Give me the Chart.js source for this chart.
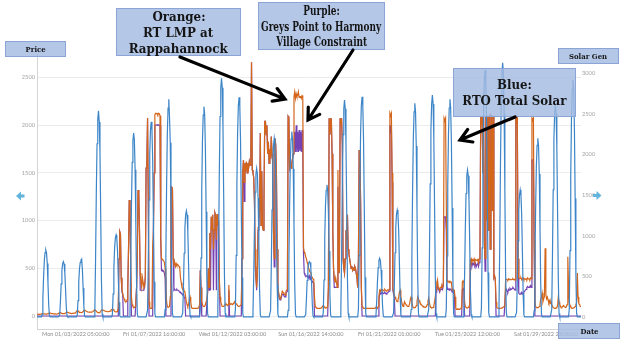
<!DOCTYPE html>
<html><head><meta charset="utf-8">
<script src="https://cdn.jsdelivr.net/npm/chart.js@4.4.1/dist/chart.umd.min.js"></script>
<style>
html,body{margin:0;padding:0;background:#fff;}
#wrap{position:relative;width:626px;height:356px;overflow:hidden;background:#fff;}
#c{position:absolute;left:0;top:0;}
.box{position:absolute;box-sizing:border-box;background:rgba(163,187,226,0.82);border:1px solid #8aa5d6;font-family:"DejaVu Serif",serif;font-weight:bold;color:#151515;}
.box .ln{white-space:nowrap;display:flex;justify-content:center;}
.box .ln span{display:inline-block;flex:none;transform-origin:50% 50%;}
#ov{position:absolute;left:0;top:0;pointer-events:none;}
</style></head>
<body><div id="wrap"><canvas id="c" width="626" height="356"></canvas><svg id="ov" width="626" height="356" xmlns="http://www.w3.org/2000/svg"></svg></div>
<script>
// ---- Data (hourly, Jan 1 00:00 .. Jan 31 23:00) ----
const tickHours = [53, 160, 267, 374, 481, 588, 695];
const tickLabels = ['Mon 01/03/2022 05:00:00','Fri 01/07/2022 16:00:00','Wed 01/12/2022 03:00:00','Sun 01/16/2022 14:00:00','Fri 01/21/2022 01:00:00','Tue 01/25/2022 12:00:00','Sat 01/29/2022 23:00:00'];
const priceTicks = [0, 500, 1000, 1500, 2000, 2500];
const solarTicks = [0, 500, 1000, 1500, 2000, 2500, 3000];

// RTO Total Solar (right axis)
const solar = [
0,0,0,0,0,0,0,29,231,494,692,791,824,791,659,412,148,13,0,0,0,0,0,0,
0,0,0,0,0,0,0,24,190,408,571,653,680,653,544,340,122,11,0,0,0,0,0,0,
0,0,0,0,0,0,0,25,200,428,590,670,700,713,580,357,128,11,0,0,0,0,0,0,
0,0,0,0,0,0,0,89,710,1522,2131,2436,2537,2400,2030,1269,457,41,0,0,0,0,0,0,
0,0,0,0,0,0,0,35,283,605,848,969,1009,969,807,505,182,16,0,0,0,0,0,0,
0,0,0,0,0,0,0,79,634,1358,1901,2172,2263,2172,1810,1132,407,36,0,0,0,0,0,0,
0,0,0,0,0,0,0,84,673,1441,2018,2306,2402,2306,1922,1201,432,38,0,0,0,0,0,0,
0,0,0,0,0,0,0,94,750,1607,2250,2571,2678,2450,2142,1339,482,43,0,0,0,0,0,0,
0,0,0,0,0,0,0,46,366,784,1098,1255,1307,1255,1046,654,235,21,0,0,0,0,0,0,
0,0,0,0,0,0,0,91,724,1552,2173,2484,2587,2484,2070,1294,466,41,0,0,0,0,0,0,
0,0,0,0,0,0,0,103,822,1762,2466,2819,2936,2819,2349,1468,528,47,0,0,0,0,0,0,
0,0,0,0,0,0,0,95,757,1621,2270,2594,2702,2594,2162,1351,486,43,0,0,0,0,0,0,
0,0,0,0,0,0,0,64,512,1097,1536,1756,1829,1756,1463,915,329,29,0,0,0,0,0,0,
0,0,0,0,0,0,0,77,615,1319,1846,2110,2198,2110,1758,1099,396,35,0,0,0,0,0,0,
0,0,0,0,0,0,0,80,638,1368,1915,2189,2280,2189,1824,1140,410,36,0,0,0,0,0,0,
0,0,0,0,0,0,0,30,220,450,600,660,680,670,600,420,160,15,0,0,0,0,0,0,
0,0,0,0,0,0,0,57,455,974,1364,1559,1624,1559,1299,812,292,26,0,0,0,0,0,0,
0,0,0,0,0,0,0,93,747,1601,2242,2562,2669,2562,2135,1335,480,43,0,0,0,0,0,0,
0,0,0,0,0,0,0,95,759,1626,2276,2602,2710,2602,2168,1355,488,43,0,0,0,0,0,0,
0,0,0,0,0,0,0,25,202,433,606,693,722,693,578,361,130,12,0,0,0,0,0,0,
0,0,0,0,0,0,0,46,368,790,1105,1263,1316,1263,1053,658,237,21,0,0,0,0,0,0,
0,0,0,0,0,0,0,92,736,1577,2208,2523,2628,2523,2102,1314,473,42,0,0,0,0,0,0,
0,0,0,0,0,0,0,96,764,1638,2293,2621,2730,2621,2184,1365,491,44,0,0,0,0,0,0,
0,0,0,0,0,0,0,94,750,1607,2250,2571,2678,2571,2142,1339,482,43,0,0,0,0,0,0,
0,0,0,0,0,0,0,63,506,1085,1519,1736,1808,1736,1446,904,325,29,0,0,0,0,0,0,
0,0,0,0,0,0,0,106,851,1823,2552,2916,3038,2916,2430,1519,547,49,0,0,0,0,0,0,
0,0,0,0,0,0,0,109,876,1877,2628,3003,3128,3003,2502,1564,563,50,0,0,0,0,0,0,
0,0,0,0,0,0,0,55,437,937,1312,1500,1562,1500,1250,781,281,25,0,0,0,0,0,0,
0,0,0,0,0,0,0,77,615,1319,1846,2110,2198,2110,1758,1099,396,35,0,0,0,0,0,0,
0,0,0,0,0,0,0,91,730,1565,2191,2504,2608,2504,2086,1304,469,42,0,0,0,0,0,0,
0,0,0,0,0,0,0,102,816,1749,2449,2798,2915,2798,2332,1458,525,47,0,0,0,0,0,0
];

// RT LMP at Rappahannock (left axis)
const lmp = [
20,20,18,18,18,20,22,25,25,24,22,20,20,20,22,25,28,30,30,28,26,25,24,22,
22,22,20,20,22,25,30,35,35,30,28,26,25,25,28,32,38,40,38,35,32,30,28,26,
28,28,28,30,32,38,50,60,55,45,40,38,36,36,40,48,60,62,58,52,48,45,42,40,
40,40,40,42,45,52,60,65,60,50,42,38,36,36,40,50,62,66,62,58,55,52,50,48,
45,45,45,48,52,60,70,75,70,60,50,45,42,42,50,90,600,884,860,400,280,240,200,180,
160,150,150,170,300,700,1216,1150,500,200,120,100,90,90,100,150,300,600,1320,1280,900,450,350,300,
400,350,300,320,420,1551,1600,2075,1200,150,90,80,80,100,726,900,1500,2110,2125,2120,2125,2110,2125,2120,
2100,831,600,587,590,580,560,500,300,150,100,90,90,100,200,1355,1350,1340,600,540,560,520,550,530,
540,530,520,500,400,350,300,280,300,260,250,200,150,120,100,120,180,200,150,90,80,80,80,80,
80,80,80,80,85,90,120,480,300,150,120,100,100,100,120,150,180,250,500,300,870,700,1040,900,
1060,700,900,1080,1050,800,1070,950,1000,400,200,150,120,100,100,100,110,120,130,120,110,120,325,130,
120,130,125,120,130,140,150,135,130,120,110,100,100,100,110,120,600,1500,1635,1400,1600,1550,1617,1500,
1600,1550,1620,1580,1617,2660,1530,1500,1450,1200,700,400,300,450,930,1000,1100,1918,950,1516,930,900,1200,2040,
2040,1900,2000,1700,1827,1600,1750,1650,1880,1700,1600,900,600,1860,1800,1500,700,300,250,200,180,200,220,260,
250,240,230,220,260,270,280,2090,2073,1560,1600,1550,1600,1650,1700,2300,2350,2280,2330,2300,2310,2350,2290,2300,
2300,2280,2310,2300,715,670,650,620,600,560,540,500,480,460,450,420,400,390,380,200,100,90,85,80,
80,80,80,80,85,90,100,110,100,90,85,85,90,100,300,2073,1900,2000,2073,1700,900,500,400,350,
400,350,300,1530,500,450,2073,2000,2073,1800,600,500,450,600,900,800,1060,700,650,600,550,500,520,480,
500,480,520,500,450,400,300,600,1740,1700,1200,300,100,90,85,80,80,80,80,80,80,80,80,80,
80,80,80,80,80,80,85,90,85,80,100,200,270,260,280,270,275,265,270,280,270,260,270,275,
270,280,2125,2100,2125,1500,300,250,220,200,180,160,150,170,200,250,270,200,150,120,100,120,150,130,
120,110,100,100,110,130,180,200,150,100,90,85,85,90,110,150,200,180,160,140,130,120,110,100,
100,95,90,90,100,120,160,190,140,100,90,85,85,90,110,150,200,280,350,380,300,290,270,300,
300,320,300,350,2073,2050,2073,1200,360,370,360,350,365,360,355,270,280,265,270,200,80,70,70,75,
70,70,75,80,90,360,370,350,150,100,90,85,85,90,100,120,587,600,560,590,580,600,570,590,
590,580,600,560,600,620,2090,2000,2090,1500,2080,800,600,2100,1000,2100,900,2090,2100,700,2100,2080,1100,2100,
400,420,380,150,90,85,80,80,80,80,82,85,90,95,100,120,380,385,380,375,390,380,385,380,
380,385,390,380,385,375,2100,2050,2100,600,400,390,395,400,380,390,400,380,390,385,390,380,400,390,
390,380,400,390,2073,2050,2073,800,150,100,90,85,85,90,100,120,180,200,240,150,180,200,710,220,
180,200,170,140,160,130,150,120,100,90,85,80,80,85,90,110,200,150,120,100,95,90,100,110,
100,95,90,95,120,620,300,140,110,95,85,80,80,85,90,100,120,140,450,200,130,120,100,100
];

// Greys Point to Harmony Village constraint (left axis)
const constraint = [
0,0,0,0,0,0,0,0,0,0,0,0,0,0,0,0,0,0,0,0,0,0,0,0,
0,0,0,0,0,0,0,0,0,0,0,0,0,0,0,0,0,0,0,0,0,0,0,0,
0,0,0,0,0,0,0,0,0,0,0,0,0,0,0,0,0,0,0,0,0,0,0,0,
0,0,0,0,0,0,0,0,0,0,0,0,0,0,0,0,0,0,0,0,0,0,0,0,
0,0,0,0,0,0,0,0,0,0,0,0,0,0,0,0,600,884,860,400,250,230,0,0,
0,0,0,0,300,700,1216,1150,500,0,0,0,0,0,0,0,300,600,1320,1280,900,270,270,270,
270,270,280,300,420,1551,1600,2075,1200,0,0,0,0,0,0,900,1500,2002,2002,2000,2005,2000,2002,2000,
2000,780,480,470,480,470,450,400,0,0,0,0,0,0,0,1355,1350,1340,600,270,280,270,270,280,
270,270,260,250,250,240,230,220,230,200,180,0,0,0,0,0,0,0,0,0,0,0,0,0,
0,0,0,0,0,0,0,480,300,0,0,0,0,0,0,0,0,250,500,270,870,270,1040,900,
1060,270,900,1080,1050,270,1070,950,1000,400,0,0,0,0,0,0,0,0,0,0,0,0,270,0,
0,0,0,0,0,0,0,0,0,0,0,0,0,0,0,0,600,1500,1635,1200,1600,1550,1617,1500,
1600,1550,1620,1580,1617,2660,1530,1500,1450,1200,515,400,270,450,900,1000,1100,1918,950,1516,930,900,1200,2040,
2040,1900,2000,1700,1827,1600,1750,1650,1880,1700,1600,900,515,1860,1800,1500,700,270,230,180,170,180,200,230,
230,220,200,200,240,250,260,2090,2073,1560,1600,1550,1600,1650,1700,1720,1930,1720,2000,1720,1930,1720,1950,1730,
1930,1720,1950,1700,650,450,430,420,420,410,420,400,420,380,400,380,360,350,340,0,0,0,0,0,
0,0,0,0,0,0,0,0,0,0,0,0,0,0,300,2073,1900,2000,2073,1700,900,500,300,300,
300,300,300,1355,500,450,2073,2000,2073,1800,600,500,450,600,900,800,1060,700,650,600,550,500,520,480,
500,480,520,500,450,400,300,600,1740,1700,1200,300,0,0,0,0,0,0,0,0,0,0,0,0,
0,0,0,0,0,0,0,0,0,0,0,150,240,230,250,240,245,235,240,250,240,230,240,245,
250,260,2000,1950,2000,1400,270,230,200,0,0,0,0,0,0,0,0,0,0,0,0,0,0,0,
0,0,0,0,0,0,0,0,0,0,0,0,0,0,0,0,0,0,0,0,0,0,0,0,
0,0,0,0,0,0,0,0,0,0,0,0,0,0,0,0,0,250,300,320,280,270,250,280,
280,300,280,320,1040,1040,1040,900,280,290,280,270,285,280,275,250,260,240,250,0,0,0,0,0,
0,0,0,0,0,280,290,270,0,0,0,0,0,0,0,0,550,560,520,550,540,560,530,550,
520,540,560,520,560,580,2090,2000,2090,1500,2080,800,470,2100,1000,2100,900,2090,2100,700,2100,2080,1100,2100,
400,420,380,0,0,0,0,0,0,0,0,0,0,0,0,0,270,280,260,250,280,270,290,280,
280,290,300,290,280,270,2100,2050,2100,600,240,230,230,240,250,230,240,250,260,270,280,300,310,300,
300,310,320,300,1635,1635,1640,700,0,0,0,0,0,0,0,0,0,0,0,0,0,0,0,0,
0,0,0,0,0,0,0,0,0,0,0,0,0,0,0,0,0,0,0,0,0,0,0,0,
0,0,0,0,0,0,0,0,0,0,0,0,0,0,0,0,0,0,0,0,0,0,0,0
];

const hourIndex = solar.map((_, i) => i);

// ---- Chart ----
const tickFont = { family: 'Lato', size: 5.7 };
new Chart(document.getElementById('c'), {
  type: 'line',
  data: {
    labels: hourIndex,
    datasets: [
      { label: 'RTO Total Solar', data: solar, yAxisID: 'y2', borderColor: '#3c85c8', borderWidth: 1.2, order: 0 },
      { label: 'RT LMP at Rappahannock', data: lmp, yAxisID: 'y', borderColor: '#d4661c', borderWidth: 1.2, order: 1 },
      { label: 'Greys Point to Harmony Village Constraint', data: constraint, yAxisID: 'y', borderColor: '#7442b4', borderWidth: 1.2, order: 2 }
    ]
  },
  options: {
    responsive: false, animation: false, devicePixelRatio: 1,
    layout: { padding: { top: 54, left: 0, right: 0, bottom: 0 } },
    elements: { point: { radius: 0 }, line: { tension: 0 } },
    plugins: { legend: { display: false }, tooltip: { enabled: false } },
    scales: {
      x: {
        type: 'linear', min: 0, max: 743,
        afterBuildTicks: s => { s.ticks = tickHours.map(v => ({ value: v })); },
        afterFit: s => { s.height = 27; },
        ticks: { autoSkip: false, maxRotation: 0, minRotation: 0, padding: 2, color: '#8c8c8c', font: { family: 'Lato', size: 5.6 },
          callback: v => { const i = tickHours.indexOf(v); return i >= 0 ? tickLabels[i] : ''; } },
        grid: { display: false, drawTicks: false },
        border: { display: true, color: '#d4d4d4', width: 1 }
      },
      y: {
        position: 'left', min: -136, max: 2746,
        afterBuildTicks: s => { s.ticks = priceTicks.map(v => ({ value: v })); },
        afterFit: s => { s.width = 37; },
        ticks: { padding: 2, color: '#a3a3a3', font: tickFont, callback: v => String(v) },
        grid: { color: '#ebebeb', lineWidth: 1, drawTicks: false },
        border: { display: true, color: '#d4d4d4', width: 1 }
      },
      y2: {
        position: 'right', min: -148, max: 3235,
        afterBuildTicks: s => { s.ticks = solarTicks.map(v => ({ value: v })); },
        afterFit: s => { s.width = 45; },
        ticks: { padding: 1, color: '#a3a3a3', font: tickFont, callback: v => String(v) },
        grid: { display: false, drawTicks: false },
        border: { display: false }
      }
    }
  }
});

// ---- Annotation boxes (real text) ----
const boxes = [
  { x: 116, y: 8, w: 125, h: 48, lines: ['Orange:', 'RT LMP at', 'Rappahannock'], size: 12.5, lh: 15.8, pad: 0, fit: 99 },
  { x: 258, y: 2, w: 127, h: 48, lines: ['Purple:', 'Greys Point to Harmony', 'Village Constraint'], size: 12.5, lh: 15.5, pad: 0, fit: 120 },
  { x: 453, y: 68, w: 123, h: 49, lines: ['Blue:', 'RTO Total Solar'], size: 12.5, lh: 15.7, pad: 8, fit: 104 },
  { x: 5, y: 41, w: 61, h: 16, lines: ['Price'], size: 8, lh: 14, pad: 0, fit: 20 },
  { x: 558, y: 48, w: 61, h: 16, lines: ['Solar Gen'], size: 8, lh: 14, pad: 0, fit: 38 },
  { x: 558, y: 323, w: 62, h: 16, lines: ['Date'], size: 8, lh: 14, pad: 0, fit: 18 }
];
const mctx = document.createElement('canvas').getContext('2d');
const wrap = document.getElementById('wrap');
boxes.forEach(b => {
  const d = document.createElement('div');
  d.className = 'box';
  Object.assign(d.style, { left: b.x + 'px', top: b.y + 'px', width: b.w + 'px', height: b.h + 'px', fontSize: b.size + 'px', lineHeight: b.lh + 'px', paddingTop: b.pad + 'px' });
  mctx.font = 'bold ' + b.size + 'px "DejaVu Serif"';
  const maxW = Math.max(...b.lines.map(t => mctx.measureText(t).width));
  const sx = b.fit / maxW;
  b.lines.forEach(t => {
    const ln = document.createElement('div'); ln.className = 'ln';
    const sp = document.createElement('span'); sp.textContent = t; sp.style.transform = 'scaleX(' + sx.toFixed(3) + ')';
    ln.appendChild(sp); d.appendChild(ln);
  });
  wrap.appendChild(d);
});
wrap.appendChild(document.getElementById('ov'));

// ---- Arrows ----
function arrowPath(x1, y1, x2, y2) {
  const a = Math.atan2(y2 - y1, x2 - x1), L = 13, s = 0.55;
  const p1 = [x2 - L * Math.cos(a - s), y2 - L * Math.sin(a - s)];
  const p2 = [x2 - L * Math.cos(a + s), y2 - L * Math.sin(a + s)];
  return 'M' + x1 + ',' + y1 + 'L' + x2 + ',' + y2 + 'M' + p1.join(',') + 'L' + x2 + ',' + y2 + 'L' + p2.join(',');
}
const svg = document.getElementById('ov');
let s = '';
[[180, 57, 285, 99], [353, 50, 308, 120], [515, 117, 460, 140]].forEach(a => {
  s += '<path d="' + arrowPath(...a) + '" stroke="#000" stroke-width="3.2" fill="none" stroke-linecap="round" stroke-linejoin="miter"/>';
});
s += '<path d="M16,196 L21,191.5 L21,194.5 L24.5,194.5 L24.5,197.5 L21,197.5 L21,200.5 Z" fill="#62b4dc"/>';
s += '<path d="M601.5,195.5 L596.5,191 L596.5,194 L593,194 L593,197 L596.5,197 L596.5,200 Z" fill="#62b4dc"/>';
svg.innerHTML = s;
</script></body></html>
